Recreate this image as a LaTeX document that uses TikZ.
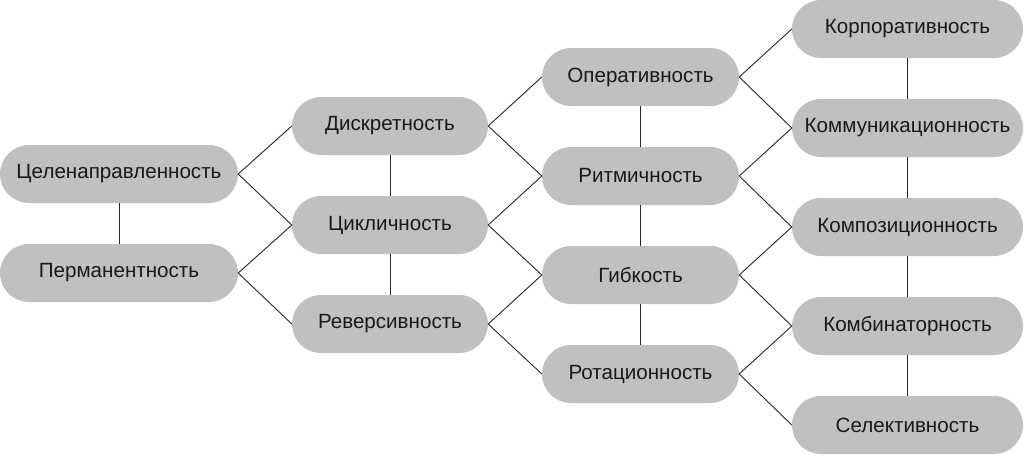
\documentclass[tikz,border=0pt]{standalone}
\usepackage{fontspec}
\setmainfont{Liberation Sans}
\begin{document}
\begin{tikzpicture}[x=1pt,y=-1pt,
  pill/.style={fill=boxgray, draw=none, rounded corners=29pt, minimum height=58pt, inner sep=0pt, font=\fontsize{20.6}{24}\selectfont, text=textdark},
  pa/.style={pill, minimum width=238pt},
  pb/.style={pill, minimum width=196pt},
  pc/.style={pill, minimum width=197pt},
  pd/.style={pill, minimum width=231pt},
  link/.style={draw=black!85, line width=0.9pt}]
\definecolor{boxgray}{RGB}{192,192,192}
\definecolor{textdark}{RGB}{25,25,25}
\useasboundingbox (0,0) rectangle (1024,455);
% column 1
\node[pa] (a1) at (119,174) {Целенаправленность};
\node[pa] (a2) at (119,273) {Перманентность};
% column 2
\node[pb] (b1) at (390,126) {Дискретность};
\node[pb] (b2) at (390,225) {Цикличность};
\node[pb] (b3) at (390,324) {Реверсивность};
% column 3
\node[pc] (c1) at (640.5,77) {Оперативность};
\node[pc] (c2) at (640.5,176) {Ритмичность};
\node[pc] (c3) at (640.5,275) {Гибкость};
\node[pc] (c4) at (640.5,374) {Ротационность};
% column 4
\node[pd] (d1) at (907.5,29) {Корпоративность};
\node[pd] (d2) at (907.5,128) {Коммуникационность};
\node[pd] (d3) at (907.5,227) {Композиционность};
\node[pd] (d4) at (907.5,326) {Комбинаторность};
\node[pd] (d5) at (907.5,425) {Селективность};
% vertical links
\draw[link] (a1.south) -- (a2.north);
\draw[link] (b1.south) -- (b2.north);
\draw[link] (b2.south) -- (b3.north);
\draw[link] (c1.south) -- (c2.north);
\draw[link] (c2.south) -- (c3.north);
\draw[link] (c3.south) -- (c4.north);
\draw[link] (d1.south) -- (d2.north);
\draw[link] (d2.south) -- (d3.north);
\draw[link] (d3.south) -- (d4.north);
\draw[link] (d4.south) -- (d5.north);
% diagonal links
\draw[link] (b1.west) -- (a1.east) -- (b2.west) -- (a2.east) -- (b3.west);
\draw[link] (c1.west) -- (b1.east) -- (c2.west) -- (b2.east) -- (c3.west) -- (b3.east) -- (c4.west);
\draw[link] (d1.west) -- (c1.east) -- (d2.west) -- (c2.east) -- (d3.west) -- (c3.east) -- (d4.west) -- (c4.east) -- (d5.west);
\end{tikzpicture}
\end{document}
